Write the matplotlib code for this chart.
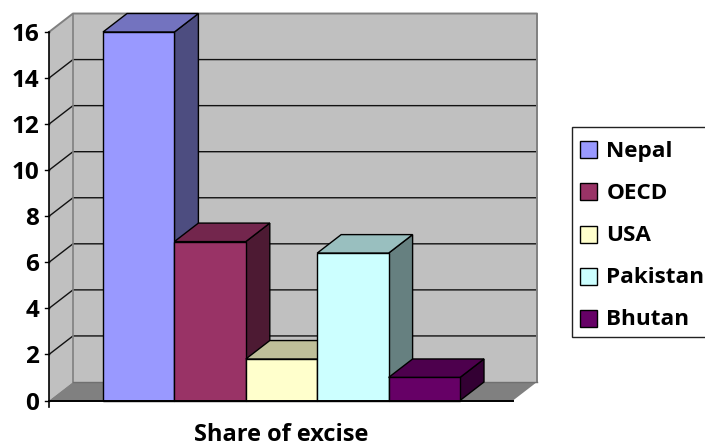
import matplotlib
matplotlib.use("Agg")
import matplotlib.pyplot as plt
from matplotlib.patches import Rectangle

plt.rcParams['font.family'] = ['Open Sans', 'DejaVu Sans']

categories = ["Nepal", "OECD", "USA", "Pakistan", "Bhutan"]
values = [16.0, 6.9, 1.8, 6.4, 1.0]
yticks = [0, 2, 4, 6, 8, 10, 12, 14, 16]
xlabel = "Share of excise"

front = ["#9999FF", "#993366", "#FFFFCC", "#CCFFFF", "#660066"]
side = ["#4D4D80", "#4D1A33", "#808066", "#668080", "#330033"]
top = ["#7373BF", "#73264D", "#BFBF99", "#99BFBF", "#4D004D"]

W, H = 705, 444
fig = plt.figure(figsize=(W / 100, H / 100), dpi=100)
ax = fig.add_axes([0, 0, 1, 1])

# One x unit is one bar width, one y unit is one value unit.
bar_px, unit_px = 71.4, 23.03
x0_px, y0_px = 103, 400.5
ax.set_xlim(-x0_px / bar_px, (W - x0_px) / bar_px)
ax.set_ylim((y0_px - H) / unit_px, y0_px / unit_px)
ax.axis("off")

dx, dy = 24 / bar_px, 18.5 / unit_px          # oblique depth offset
left = (49 - x0_px) / bar_px                  # front edge of the floor
right = (513 - x0_px) / bar_px
ymax = yticks[-1]
WALL, FLOOR, EDGE = "#C0C0C0", "#808080", "#808080"

# Walls and floor
ax.fill([left, left + dx, left + dx, left], [0, dy, ymax + dy, ymax], fc=WALL, ec="none", zorder=1)
ax.fill([left + dx, right + dx, right + dx, left + dx], [dy, dy, ymax + dy, ymax + dy], fc=WALL, ec="none", zorder=1)
ax.fill([left, right, right + dx, left + dx], [0, 0, dy, dy], fc=FLOOR, ec="none", zorder=1)

# Gridlines wrap from the side wall onto the back wall
for t in yticks[1:-1]:
    ax.plot([left, left + dx, right + dx], [t, t + dy, t + dy], color="#111111", lw=1.0, zorder=2)
ax.plot([left, left + dx, right + dx, right + dx], [ymax, ymax + dy, ymax + dy, dy], color=EDGE, lw=1.4, zorder=2)
ax.plot([left + dx, left + dx], [dy, ymax + dy], color=EDGE, lw=1.2, zorder=2)
ax.plot([left + dx, right + dx], [dy, dy], color="#707070", lw=1.0, zorder=2)

# Bars, drawn left to right so later tops overlap earlier sides
for i, v in enumerate(values):
    a, b = i, i + 1
    z = 3 + i
    kw = dict(ec="black", lw=1.0, joinstyle="miter", zorder=z)
    ax.fill([b, b + dx, b + dx, b], [0, dy, v + dy, v], fc=side[i], **kw)
    ax.fill([a, b, b + dx, a + dx], [v, v, v + dy, v + dy], fc=top[i], **kw)
    ax.fill([a, b, b, a], [0, 0, v, v], fc=front[i], **kw)

# Axis lines, ticks and tick labels
tick = 4 / bar_px
ax.plot([left, left], [-6.5 / unit_px, ymax], color="black", lw=1.2, zorder=10)
ax.plot([left, right], [0, 0], color="black", lw=1.4, zorder=10)
for t in yticks:
    ax.plot([left - tick, left], [t, t], color="black", lw=1.0, zorder=10)
    ax.text(left - 10 / bar_px, t, str(t), ha="right", va="center_baseline",
            fontsize=17.5, fontweight="bold", color="black", zorder=10)

ax.text((281 - x0_px) / bar_px, (y0_px - 441) / unit_px, xlabel, ha="center", va="baseline",
        fontsize=17, fontweight="bold", color="black")

# Legend box placed in figure pixels
def fx(p):
    return p / W

def fy(p):
    return 1 - p / H

fig.add_artist(Rectangle((fx(572), fy(337)), (W + 5 - 572) / W, 210 / H, transform=fig.transFigure,
                         fc="white", ec="#222222", lw=1.0, zorder=20))
rows = [150, 192, 234, 276, 318]
for name, colour, row in zip(categories, front, rows):
    fig.add_artist(Rectangle((fx(579.5), fy(row + 8.5)), 17 / W, 17 / H, transform=fig.transFigure,
                             fc=colour, ec="black", lw=1.0, zorder=21))
    fig.text(fx(606.5), fy(row + 7), name, ha="left", va="baseline",
             fontsize=16.2, fontweight="bold", color="black", zorder=21)

fig.savefig("out.png", dpi=100)
